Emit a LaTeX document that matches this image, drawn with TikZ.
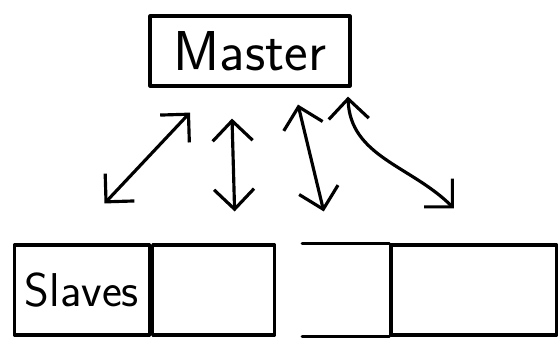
\documentclass[tikz,border=0pt]{standalone}
\usepackage{tikz}
\usetikzlibrary{positioning,arrows.meta}

\begin{document}
\begin{tikzpicture}[x=0.02cm, y=-0.02cm,
line width=1.8pt, line cap=round, line join=round,
both/.style={{Straight Barb[length=4mm,width=8mm]}-{Straight Barb[length=4mm,width=8mm]}},
boxnode/.style={rectangle, draw=black, minimum height=1.8cm, inner sep=0pt, font=\sffamily\fontsize{27}{30}\selectfont},
]
\useasboundingbox (0,0) rectangle (560,353);
%Nodes
\node[boxnode, minimum width=4cm, minimum height=1.4cm, font=\sffamily\fontsize{32}{36}\selectfont] (master) at (250,51) {Master};
\node[boxnode, minimum width=2.7cm]                     (slave1) at (82,290) {Slaves};
\node[boxnode, minimum width=2.44cm]  (slave2) [right=0pt of slave1]   {};
\node[minimum width=1.68cm, minimum height=1.8cm, inner sep=0pt] (slave3) [right=0.52cm of slave2] {};
\node[boxnode, minimum width=3.32cm]  (slave4) [right=0pt of slave3]   {};
% third slave box is left open
\draw (slave3.south west) -- (slave3.south east) (slave3.north west) -- (slave3.north east);

%Lines
\draw[both] ([shift={(-1.2cm,-0.5cm)}]master.south) -- ([shift={(0.45cm,0.8cm)}]slave1.north);
\draw[both] ([shift={(-0.36cm,-0.62cm)}]master.south) -- ([shift={(0.42cm,0.64cm)}]slave2.north);
\draw[both] ([shift={(0.96cm,-0.34cm)}]master.south) -- ([shift={(-0.44cm,0.64cm)}]slave3.north);
\draw[both] ([shift={(1.96cm,-0.18cm)}]master.south) to[out=-88, in=135] ([shift={(-0.4cm,0.7cm)}]slave4.north);
\end{tikzpicture}
\end{document}
